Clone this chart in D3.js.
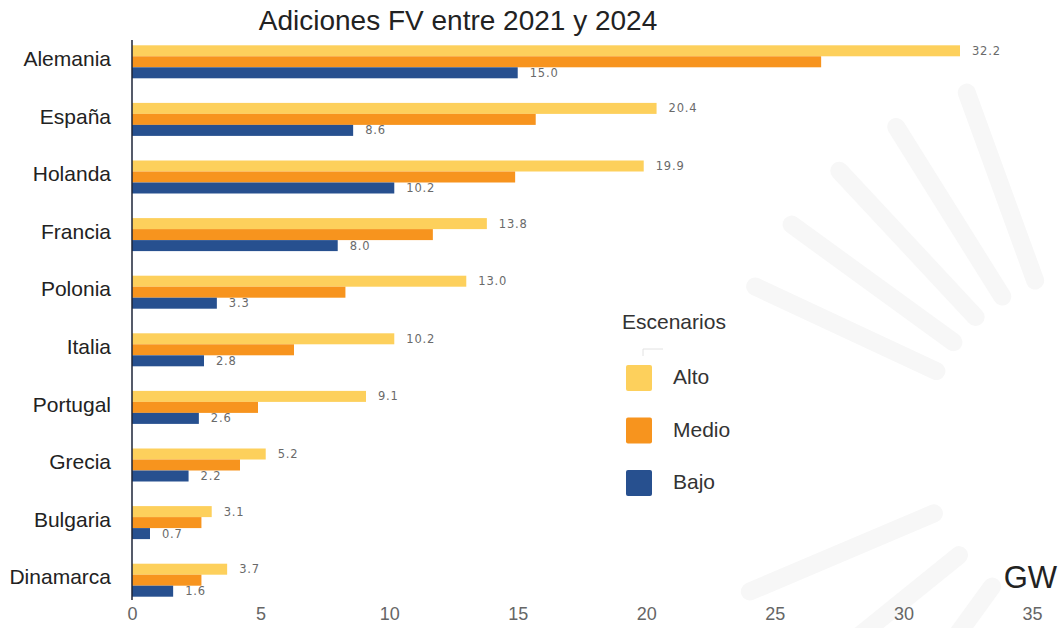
<!DOCTYPE html>
<html>
<head>
<meta charset="utf-8">
<script src="https://cdn.jsdelivr.net/npm/d3@7"></script>
<style>
  body { margin: 0; background: #fff; }
  svg { display: block; font-family: "Liberation Sans", Arial, sans-serif; }
</style>
</head>
<body>
<div></div>
<script>
var width = 1062;
var height = 628;

// data (GW)
var paises = ["Alemania", "España", "Holanda", "Francia", "Polonia", "Italia", "Portugal", "Grecia", "Bulgaria", "Dinamarca"];
var escenarios = ["Alto", "Medio", "Bajo"];
var alto = [32.2, 20.4, 19.9, 13.8, 13.0, 10.2, 9.1, 5.2, 3.1, 3.7];
var medio = [26.8, 15.7, 14.9, 11.7, 8.3, 6.3, 4.9, 4.2, 2.7, 2.7];
var bajo = [15.0, 8.6, 10.2, 8.0, 3.3, 2.8, 2.6, 2.2, 0.7, 1.6];
var xTicks = [0, 5, 10, 15, 20, 25, 30, 35];
var colores = ["#fdd05c", "#f7941e", "#27508f"];
// rays of the faint sun watermark (degrees)
var rayos = [126, 141, 157, 205, 216, 227, 238, 250];

var series = { Alto: alto, Medio: medio, Bajo: bajo };
var conLabel = { Alto: true, Medio: false, Bajo: true };

var svg = d3.select("div").append("svg")
  .attr("width", width)
  .attr("height", height);

// watermark
var sol = svg.append("g").attr("transform", "translate(1095,445)");
sol.selectAll("line")
  .data(rayos)
  .join("line")
  .attr("x1", (d) => 175 * Math.cos(d * Math.PI / 180))
  .attr("y1", (d) => 175 * Math.sin(d * Math.PI / 180))
  .attr("x2", (d) => 375 * Math.cos(d * Math.PI / 180))
  .attr("y2", (d) => 375 * Math.sin(d * Math.PI / 180))
  .attr("stroke", "#f7f7f7")
  .attr("stroke-width", 18)
  .attr("stroke-linecap", "round");

var x = d3.scaleLinear().domain([0, 35]).range([132, 1032]);

var y0 = d3.scaleBand().domain(paises).range([33, 609]);
var y1 = d3.scaleBand().domain(escenarios)
  .range([y0.bandwidth() / 2 - 16.5, y0.bandwidth() / 2 + 16.5]);

var color = d3.scaleOrdinal(escenarios, colores);

// bars
var grupos = svg.append("g")
  .selectAll("g")
  .data(paises)
  .join("g")
  .attr("transform", (d) => `translate(0,${y0(d)})`);

grupos.selectAll("rect")
  .data((d, i) => escenarios.map((e) => ({ esc: e, value: series[e][i] })))
  .join("rect")
  .attr("x", x(0))
  .attr("y", (d) => y1(d.esc))
  .attr("width", (d) => x(d.value) - x(0))
  .attr("height", y1.bandwidth())
  .attr("fill", (d) => color(d.esc));

grupos.selectAll("text.val")
  .data((d, i) => escenarios.filter((e) => conLabel[e]).map((e) => ({ esc: e, value: series[e][i] })))
  .join("text")
  .attr("class", "val")
  .attr("x", (d) => x(d.value) + 12)
  .attr("y", (d) => y1(d.esc) + y1.bandwidth() / 2)
  .attr("dy", "0.35em")
  .attr("font-family", "DejaVu Sans, sans-serif")
  .attr("font-size", 11.5)
  .attr("letter-spacing", 0.8)
  .attr("fill", "#6a6a6a")
  .text((d) => d.value.toFixed(1));

// y axis
var yAxis = (g) =>
  g
    .attr("transform", `translate(${x(0)},0)`)
    .call(d3.axisLeft(y0).tickSize(0).tickPadding(21))
    .call((g) => g.select(".domain").attr("d", "M0,40V600").attr("stroke", "#1c2438").attr("stroke-width", 1.5))
    .call((g) => g.selectAll(".tick text")
      .attr("font-size", 21)
      .attr("fill", "#222")
      .attr("dy", "0.2em")
      .attr("font-family", "Liberation Sans, Arial, sans-serif"));

svg.append("g").call(yAxis);

// x axis
var xAxis = (g) =>
  g
    .attr("transform", "translate(0,604)")
    .call(d3.axisBottom(x).tickValues(xTicks).tickSize(0).tickPadding(3))
    .call((g) => g.select(".domain").remove())
    .call((g) => g.selectAll(".tick text")
      .attr("font-size", 18)
      .attr("fill", "#666")
      .attr("font-family", "Liberation Sans, Arial, sans-serif"));

svg.append("g").call(xAxis);

// title
svg.append("text")
  .attr("x", 458)
  .attr("y", 30)
  .attr("text-anchor", "middle")
  .attr("font-size", 28)
  .attr("fill", "#222")
  .text("Adiciones FV entre 2021 y 2024");

// unit
svg.append("text")
  .attr("x", 1057)
  .attr("y", 588)
  .attr("text-anchor", "end")
  .attr("font-size", 31)
  .attr("fill", "#222")
  .text("GW");

// legend
var legend = svg.append("g").attr("transform", "translate(626,0)");

legend.append("text")
  .attr("x", -4)
  .attr("y", 329)
  .attr("font-size", 21)
  .attr("fill", "#333")
  .text("Escenarios");

legend.append("path")
  .attr("d", "M17,356V349H37")
  .attr("fill", "none")
  .attr("stroke", "#e2e2e2");

var items = legend.selectAll("g.item")
  .data(escenarios)
  .join("g")
  .attr("class", "item")
  .attr("transform", (d, i) => `translate(0,${365 + i * 52.5})`);

items.append("rect")
  .attr("width", 26)
  .attr("height", 26)
  .attr("rx", 2)
  .attr("fill", (d) => color(d));

items.append("text")
  .attr("x", 47)
  .attr("y", 12)
  .attr("dy", "0.35em")
  .attr("font-size", 21)
  .attr("fill", "#333")
  .text((d) => d);
</script>
</body>
</html>
